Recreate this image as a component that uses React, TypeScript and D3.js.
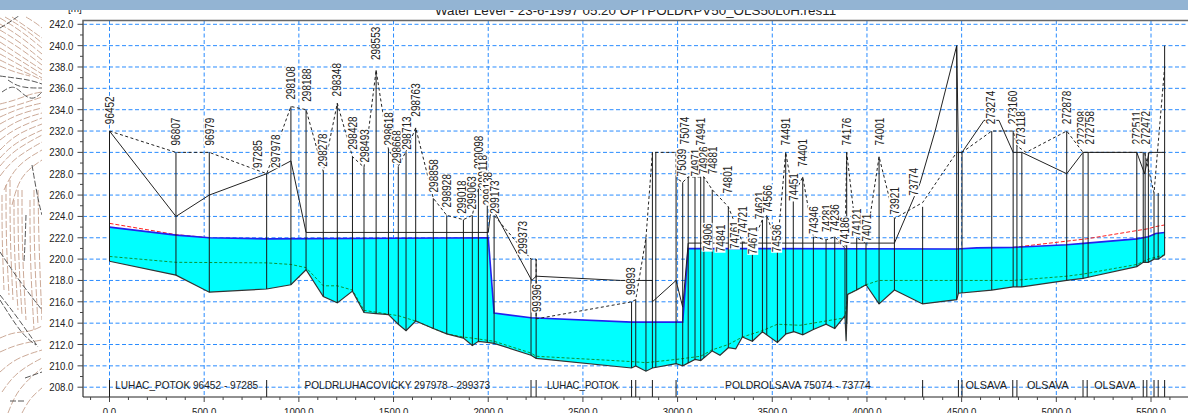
import React from 'react';
import * as d3 from 'd3';

const W = 1188, H = 413;
const titleText = 'Water Level - 23-6-1997 05:20 OPTPOLDRPV50_OLS50L0H.res11';

const bedCh = [0,351,527,830,958,1038,1129,1203,1283,1344,1408,1473,1525,1566,1617,1710,1781,1869,1916,1948,1995,2031,2226,2253,2757,2779,2833,2867,2992,3027,3092,3122,3183,3224,3268,3307,3342,3395,3448,3527,3573,3615,3661,3717,3784,3830,3884,3890,3898,3946,3995,4064,4145,4294,4474,4483,4659,4772,4818,5055,5141,5168,5425,5459,5486,5516,5538,5572];
const bedLv = [219.8,218.5,216.9,217.2,217.6,219.0,216.5,215.9,217.0,215.0,214.9,214.8,213.9,213.3,214.2,213.5,213.0,212.6,211.9,212.3,212.2,212.1,211.0,210.7,209.8,210.0,209.5,209.8,210.2,210.0,210.6,210.5,211.4,211.0,211.7,211.6,212.7,212.3,213.2,212.2,213.0,213.2,212.9,213.4,213.9,213.5,214.7,212.3,216.7,217.1,217.6,215.8,217.1,215.8,216.2,216.8,217.1,217.4,217.4,218.0,218.2,218.3,219.3,219.7,219.7,220.0,220.0,220.4];

const waterCh = [0,351,527,830,2000,2031,2226,2757,3027,3056,4474,4580,4772,5055,5160,5425,5486,5525,5572];
const waterLv = [223.0,222.25,222.0,221.9,222.0,214.95,214.5,214.1,214.1,221.0,220.95,221.05,221.1,221.35,221.5,221.9,222.1,222.4,222.5];

const redLeftCh = [0,351,527];
const redLeftLv = [223.35,222.3,222.0];
const redRightCh = [4772,5160,5486,5525,5572];
const redRightLv = [221.1,221.9,222.85,223.05,223.2];

const greenCh = [0,351,830,958,1038,1129,1203,1283,1344,1525,1617,1710,1781,1869,1916,2031,2226,2253,2757,2833,2992,3122,3183,3268,3342,3448,3527,3647,3884,3898,3995,4064,4145,4772,5055,5141,5425,5486,5572];
const greenLv = [220.25,219.7,219.65,219.5,219.2,217.5,217.5,217.1,215.2,214.7,214.2,213.5,213.0,212.7,212.6,212.3,211.2,210.9,210.4,210.3,210.6,210.9,211.5,212.0,212.7,213.3,213.9,213.8,214.5,216.7,217.6,218.0,218.0,218.0,218.4,218.6,219.5,220.0,220.4];

const solidCh = [0,351,527,830,958,1038,2000,2012,2018,2230,2253,2700,2867,2867,2992,3027,3056,4145,4280,4360,4474,4483,4502,4618,4697,4772,4818,5055,5141,5425,5466,5490,5572];
const solidLv = [232,224,226,228,229.2,222.5,222.5,224.3,224.9,218.0,218.4,218.0,218.0,216,218,215.5,221.5,221.5,227.1,232,240,230,230,233,233,230,230,228,230,230,228,230,230];

const dashCh = [0,351,527,830,958,1038,1129,1203,1283,1344,1408,1473,1525,1566,1617,1710,1781,1869,1916,1948,1995,2031,2226,2253,2253,2757,2779,2833,2867,2992,2992,3027,3056,3092,3139,3183,3268,3342,3395,3448,3471,3527,3571,3611,3661,3717,3784,3830,3884,3893,3946,3995,4064,4145,4294,4474,4502,4659,4772,4792,4840,5055,5141,5425,5466,5516,5572];
const dashLv = [232,230,230,228,234.3,234,228.2,234.6,229.6,228.6,237.7,230.3,228.7,230.1,232.3,225.7,224.1,223.7,224.1,226.7,226,224.1,220,220,214.4,216,216.2,222,230,230,227.6,227.2,227.7,227.7,227.7,226.5,224.9,221.6,221.5,223.7,224.1,221.2,230,225.9,227.7,222.1,221.8,222.1,221,230,222,221.5,229.6,223.8,225.3,230,230,232,232,230.6,230,232,230,230,230,226.2,238];

const stationCh = [0,351,527,830,958,1038,1129,1203,1283,1344,1408,1473,1525,1566,1617,1710,1781,1869,1916,1948,1995,2031,2226,2253,2757,2779,2833,2867,2885,2992,3027,3056,3092,3122,3139,3183,3268,3342,3395,3448,3471,3527,3571,3611,3661,3717,3784,3830,3884,3893,3946,3995,4064,4145,4294,4474,4483,4502,4659,4772,4792,4818,5055,5141,5168,5425,5459,5469,5486,5516,5538,5572];
const stationTop = [232,230,230,228,234.3,234,228.2,234.6,229.6,228.6,237.7,230.3,228.7,230.1,232.3,225.7,224.1,223.7,224.1,226.7,226,224.1,220,220,216,216.2,222,230,230,227.6,227.2,227.7,227.7,227.7,227.7,226.5,224.9,221.6,221.5,223.7,224.1,221.2,230,225.9,227.7,222.1,221.8,222.1,221,230,222,221.5,229.6,223.8,224.9,240,230,230,232,232,230.6,230,232,230,230,230,230,230,230,226.2,226.2,240];

const labelNames = ['96452','96807','96979','97285','297978','298108','298188','298278','298348','298428','298493','298553','298618','298668','298713','298763','298858','298928','299018','299063','299098','299118','299138','299173','299373','99396','99893','75039','75074','74971','74941','74926','74881','74801','74906','74841','74761','74721','74671','74621','74566','74536','74491','74451','74401','74346','74281','74236','74186','74176','74121','74071','74001','73921','73774','273274','273160','273118','272878','272798','272758','272511','272472'];
const labelCh = [0,351,527,779,879,958,1038,1127,1201,1281,1344,1407,1471,1517,1566,1617,1709,1778,1860,1914,1946,1972,1995,2031,2182,2256,2753,3022,3034,3092,3123,3139,3186,3265,3156,3224,3300,3342,3397,3435,3476,3523,3571,3611,3661,3717,3784,3830,3884,3893,3946,3995,4064,4145,4245,4654,4770,4812,5055,5134,5174,5425,5469];
const labelLv = [232.6,230.6,230.6,228.5,228.5,234.9,234.7,228.6,235.2,230.2,229.0,238.6,230.6,228.9,230.2,233.3,226.2,224.8,224.2,224.6,228.4,226.6,225.0,224.2,220.4,215.0,216.6,227.7,230.7,227.7,230.6,227.9,227.9,226.1,220.7,220.6,220.9,222.3,220.4,223.7,224.3,220.6,230.6,225.4,228.6,222.3,222.5,222.5,221.3,230.6,222.1,221.6,230.6,224.1,225.9,232.6,232.6,230.7,232.6,230.7,230.7,230.7,230.7];

const sectionMarkers = [0,830,2226,2253,2757,2779,2867,2992,4294,4483,4502,4770,4792,5141,5163,5459,5478,5516,5538,5572];
const sectionNames = ['LUHAC_POTOK 96452 - 97285','POLDRLUHACOVICKY 297978 - 299373','LUHAC_POTOK','POLDROLSAVA 75074 - 73774','OLSAVA','OLSAVA','OLSAVA'];
const sectionStart = [30,1030,2310,3250,4520,4845,5200];
const sectionEnd = [785,2010,2688,4020,4740,5065,5420];

const yMajor = [242,240,238,236,234,232,230,228,226,224,222,220,218,216,214,212,210,208];
const yMinor = [241,239,237,235,233,231,229,227,225,223,221,219,217,215,213,211,209];
const xMajor = [0,500,1000,1500,2000,2500,3000,3500,4000,4500,5000,5500];
const xMinor = [-100,100,200,300,400,600,700,800,900,1100,1200,1300,1400,1600,1700,1800,1900,2100,2200,2300,2400,2600,2700,2800,2900,3100,3200,3300,3400,3600,3700,3800,3900,4100,4200,4300,4400,4600,4700,4800,4900,5100,5200,5300,5400,5600,5700];

// Background topographic map, pixel sketches of its contours
const mapContours: [number, number][][] = [
  [[0,18],[20,30],[42,48]],[[0,24],[20,36],[42,54]],[[12,17],[28,28],[42,38]],[[26,17],[36,23],[42,28]],[[5,17],[24,28],[42,43]],
  [[0,30],[20,42],[42,60]],[[0,36],[20,48],[42,65]],[[0,42],[18,54],[42,70]],[[0,48],[18,59],[42,74]],[[0,54],[18,64],[42,78]],[[0,60],[16,68],[42,80]],[[0,66],[14,72],[30,76]],
  [[0,104],[16,100],[30,94],[42,92]],[[0,110],[18,105],[42,97]],[[0,117],[20,108],[42,103]],[[0,124],[18,114],[42,108]],[[0,132],[18,120],[42,113]],
  [[0,140],[16,128],[42,118]],[[0,150],[16,134],[42,124]],[[0,158],[14,143],[42,130]],[[0,166],[14,150],[42,135]],[[0,176],[14,158],[42,142]],[[4,190],[16,165],[42,150]],[[12,205],[20,175],[42,160]],
  [[2,195],[2,240],[4,290]],[[6,185],[6,240],[9,295]],[[10,180],[10,240],[13,300]],[[14,200],[14,250],[18,310]],[[18,190],[18,250],[22,315]],[[22,190],[22,250],[26,320]],[[30,200],[30,260],[34,330]],[[34,190],[34,250],[38,325]],[[38,190],[39,250],[42,320]],
  [[0,338],[14,332],[30,332],[42,326]],[[0,352],[18,344],[42,340]],[[0,372],[16,358],[42,350]],[[2,392],[16,372],[42,358]],[[8,413],[18,388],[42,368]],[[22,413],[30,398],[42,388]]
];
const mapRoads: [number, number][][] = [
  [[0,28],[10,22],[20,15]],[[0,76],[15,78],[30,80],[42,84]],[[2,92],[14,84],[24,96],[34,100],[42,92]],[[8,80],[20,88],[42,88]],
  [[26,215],[25,245],[24,262]],[[32,165],[38,200],[42,215]],[[0,252],[20,282],[42,310]],[[0,295],[18,318],[38,347]],[[0,300],[22,335],[36,345]],
  [[25,378],[42,372]],[[10,401],[26,401]]
];

const x = d3.scaleLinear().domain([0, 5500]).range([109.5, 1151]);
const y = d3.scaleLinear().domain([242, 208]).range([24.3, 387.2]);
const bedAt = d3.scaleLinear().domain(bedCh).range(bedLv);
const waterAt = d3.scaleLinear().domain(waterCh).range(waterLv);
const FRAME_L = 83, FRAME_T = 20.5, FRAME_B = 397;
const FONT = '"Liberation Sans", Arial, sans-serif';

const zip = (a: number[], b: number[]) => a.map((v, i) => [v, b[i]] as [number, number]);
const line = d3.line<[number, number]>().x(d => x(d[0])).y(d => y(d[1]));
const mapLine = d3.line<[number, number]>().curve(d3.curveBasis);
const fillCh = Array.from(new Set([...bedCh, ...waterCh])).sort((a, b) => a - b);
const area = d3.area<number>().x(d => x(d)).y0(d => y(bedAt(d))).y1(d => y(waterAt(d)));
const numWidth = (s: string) => (s.length - 1) * 5.4 + 2.6;

export default function App() {
  return (
    <svg width={W} height={H} viewBox={`0 0 ${W} ${H}`}
      style={{ position: 'fixed', left: 0, top: 0, display: 'block', background: '#fff' }}>
      <g fill="none">
        {mapContours.map((c, i) => (
          <path key={i} d={mapLine(c)!} stroke="#b98c74" strokeWidth={1} strokeDasharray="7 2" opacity={0.75} />
        ))}
        {mapRoads.map((c, i) => (
          <path key={i} d={mapLine(c)!} stroke="#444" strokeWidth={0.9} strokeDasharray="6 2" />
        ))}
      </g>
      <rect x={42} y={0} width={W - 42} height={H} fill="#fff" />

      <text x={635.5} y={15} textAnchor="middle" fontFamily={FONT} fontSize={13.4} fill="#222">{titleText}</text>
      <text x={68} y={12} fontFamily={FONT} fontSize={10} fill="#222">[m]</text>
      <rect x={0} y={0} width={W} height={10} fill="#93b4d3" />
      <rect x={0} y={10} width={42} height={6} fill="#fff" />

      <g stroke="#2a8cff" strokeWidth={1} strokeDasharray="4 2.5">
        {yMajor.map(v => <line key={v} x1={FRAME_L} x2={W} y1={y(v)} y2={y(v)} />)}
        {xMajor.map(v => <line key={v} x1={x(v)} x2={x(v)} y1={FRAME_T} y2={FRAME_B} />)}
      </g>

      <path d={area(fillCh)!} fill="#00ffff" />

      <g fill="none">
        <path d={line(zip(greenCh, greenLv))!} stroke="#0a8a20" strokeWidth={0.9} strokeDasharray="3 2" />
        <path d={line(zip(redLeftCh, redLeftLv))!} stroke="#ff2020" strokeWidth={1} strokeDasharray="4 2" />
        <path d={line(zip(redRightCh, redRightLv))!} stroke="#ff2020" strokeWidth={1} strokeDasharray="4 2" />
        <path d={line(zip(waterCh, waterLv))!} stroke="#2222ee" strokeWidth={1.6} />
        <path d={line(zip(bedCh, bedLv))!} stroke="#333" strokeWidth={1.2} />
        <path d={line(zip(solidCh, solidLv))!} stroke="#222" strokeWidth={1} />
        <path d={line(zip(dashCh, dashLv))!} stroke="#222" strokeWidth={1} strokeDasharray="3 2.5" />
      </g>

      <g stroke="#1a1a1a" strokeWidth={1}>
        {stationCh.map((c, i) => (
          <line key={i} x1={x(c)} x2={x(c)} y1={y(bedAt(c))} y2={y(stationTop[i])} />
        ))}
        {sectionMarkers.map((c, i) => (
          <line key={i} x1={x(c)} x2={x(c)} y1={380} y2={FRAME_B} />
        ))}
      </g>

      <g fontFamily={FONT} fontSize={12.5} fill="#222">
        {labelNames.map((n, i) => {
          const len = n.length * 5.56;
          return (
            <g key={i} transform={`translate(${x(labelCh[i])},${y(labelLv[i])}) rotate(-90)`}>
              <rect x={0} y={-5.5} width={len + 1} height={11} fill="#fff" />
              <text x={0.5} y={4.5} textLength={len} lengthAdjust="spacingAndGlyphs">{n}</text>
            </g>
          );
        })}
      </g>

      <g fontFamily={FONT} fontSize={11} fill="#222">
        {sectionNames.map((n, i) => (
          <text key={i} x={x(sectionStart[i])} y={389} textLength={x(sectionEnd[i]) - x(sectionStart[i])} lengthAdjust="spacingAndGlyphs">{n}</text>
        ))}
      </g>

      <path d={`M${W},${FRAME_T}H${FRAME_L}V${FRAME_B}`} stroke="#666" fill="none" strokeWidth={1.6} />
      <line x1={FRAME_L} x2={W} y1={FRAME_B} y2={FRAME_B} stroke="#222" strokeWidth={1} />
      <g stroke="#444" strokeWidth={1}>
        {yMajor.map(v => <line key={v} x1={77.5} x2={FRAME_L} y1={y(v)} y2={y(v)} />)}
        {yMinor.map(v => <line key={v} x1={80} x2={FRAME_L} y1={y(v)} y2={y(v)} />)}
        {xMajor.map(v => <line key={v} x1={x(v)} x2={x(v)} y1={FRAME_B} y2={FRAME_B + 5} />)}
        {xMinor.map(v => <line key={v} x1={x(v)} x2={x(v)} y1={FRAME_B} y2={FRAME_B + 3} />)}
      </g>
      <g fontFamily={FONT} fontSize={11.2} fill="#222">
        {yMajor.map(v => <text key={v} x={73.5} y={y(v) + 4} textAnchor="end" textLength={numWidth(v.toFixed(1))} lengthAdjust="spacingAndGlyphs">{v.toFixed(1)}</text>)}
        {xMajor.map(v => <text key={v} x={x(v)} y={416} textAnchor="middle" textLength={numWidth(v.toFixed(1))} lengthAdjust="spacingAndGlyphs">{v.toFixed(1)}</text>)}
      </g>
    </svg>
  );
}
